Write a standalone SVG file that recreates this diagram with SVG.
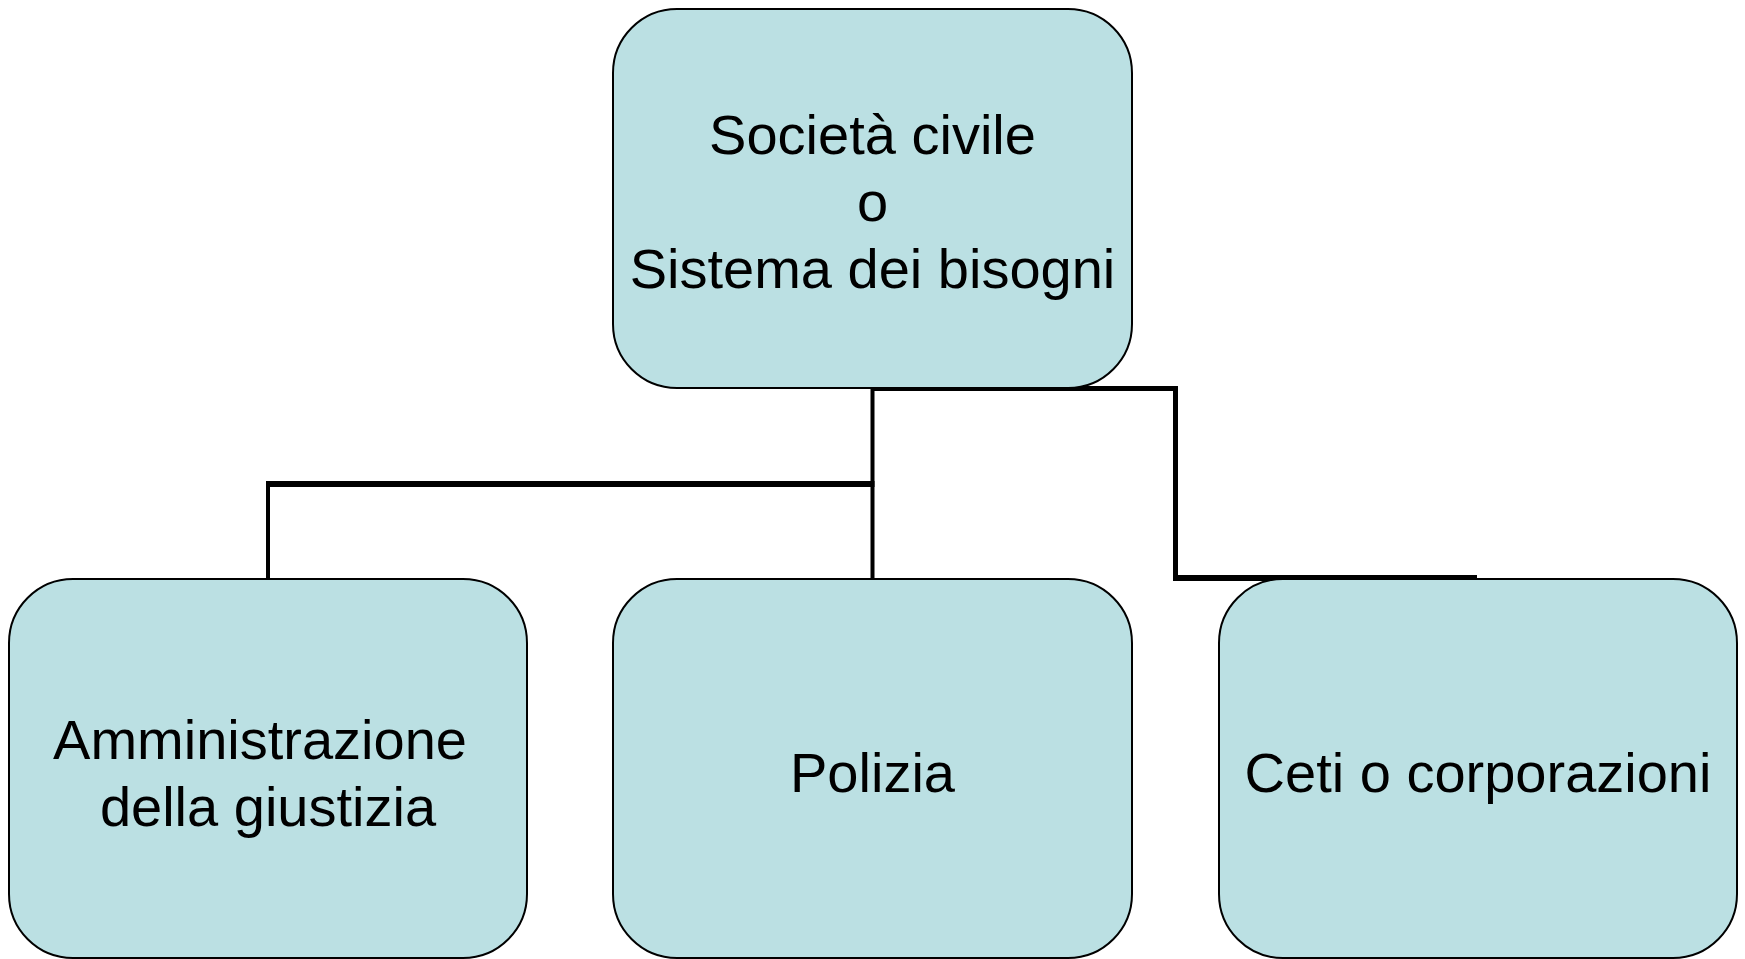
<svg xmlns="http://www.w3.org/2000/svg" width="1745" height="959" viewBox="0 0 1745 959">
<style>
.node{fill:#BBE0E3;stroke:#000;stroke-width:2}
.t{font-family:"Liberation Sans",Arial,sans-serif;font-size:56px;fill:#000;text-anchor:middle}
.c{fill:none;stroke:#000;stroke-linecap:butt;stroke-linejoin:miter}
</style>
<rect width="1745" height="959" fill="#fff"/>
<g id="connectors">
<path class="c" d="M872.5,388 V579" stroke-width="4"/>
<path class="c" d="M874.5,484 H266" stroke-width="6"/>
<path class="c" d="M268,481 V579" stroke-width="4"/>
<path class="c" d="M872.5,388.5 H1175.5 V578" stroke-width="5"/>
<path class="c" d="M1173,578 H1477" stroke-width="6"/>
</g>
<g id="node-top">
<rect class="node" x="613" y="9" width="519" height="379" rx="64" ry="64"/>
<text class="t" x="872.5" y="154">Società civile</text>
<text class="t" x="872.5" y="221">o</text>
<text class="t" x="872.5" y="288">Sistema dei bisogni</text>
</g>
<g id="node-amministrazione">
<rect class="node" x="9" y="579" width="518" height="379" rx="64" ry="64"/>
<text class="t" x="260" y="759">Amministrazione</text>
<text class="t" x="268" y="826">della giustizia</text>
</g>
<g id="node-polizia">
<rect class="node" x="613" y="579" width="519" height="379" rx="64" ry="64"/>
<text class="t" x="872.5" y="792">Polizia</text>
</g>
<g id="node-ceti">
<rect class="node" x="1219" y="579" width="518" height="379" rx="64" ry="64"/>
<text class="t" x="1478" y="792">Ceti o corporazioni</text>
</g>
</svg>
